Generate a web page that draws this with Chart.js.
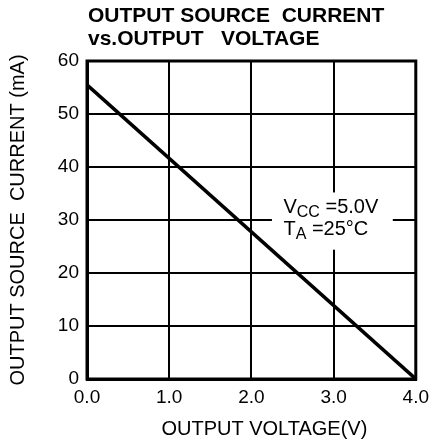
<!DOCTYPE html>
<html>
<head>
<meta charset="utf-8">
<script src="https://cdn.jsdelivr.net/npm/chart.js@4.4.1/dist/chart.umd.min.js"></script>
<style>
  html, body { margin: 0; padding: 0; background: #fff; }
  #wrap { width: 436px; height: 443px; }
</style>
</head>
<body>
<div id="wrap"><canvas id="c" width="436" height="443"></canvas></div>
<script>
// ---- data ----
const outputVoltage = [0.0, 4.0];          // V
const outputSourceCurrent = [55.5, 0.0];   // mA
const xTickLabels = ['0.0', '1.0', '2.0', '3.0', '4.0'];
const yTickLabels = ['0', '10', '20', '30', '40', '50', '60'];
const titleLines = ['OUTPUT SOURCE  CURRENT', 'vs.OUTPUT   VOLTAGE'];
const xAxisTitle = 'OUTPUT VOLTAGE(V)';
const yAxisTitle = 'OUTPUT SOURCE  CURRENT (mA)';

const FONT = "'Liberation Sans', Arial, Helvetica, sans-serif";

const titlePlugin = {
  id: 'leftTitle',
  afterDraw(chart) {
    const ctx = chart.ctx;
    const left = chart.chartArea.left + 1;
    ctx.save();
    ctx.fillStyle = '#000';
    ctx.font = 'bold 21px ' + FONT;
    ctx.textAlign = 'left';
    ctx.textBaseline = 'alphabetic';
    ctx.fillText(titleLines[0], left, 22);
    ctx.fillText(titleLines[1], left, 45);
    // x axis title
    ctx.font = '20px ' + FONT;
    ctx.textAlign = 'center';
    ctx.fillText(xAxisTitle, (chart.chartArea.left + chart.chartArea.right) / 2 + 13, 435);
    ctx.restore();
  }
};

const framePlugin = {
  id: 'frame',
  beforeDatasetsDraw(chart) {
    const { ctx } = chart;
    const xs = chart.scales.x, ys = chart.scales.y;
    // white box behind the conditions note
    ctx.save();
    ctx.fillStyle = '#fff';
    const bx = xs.getPixelForValue(2.25), by = ys.getPixelForValue(35.2);
    const bx2 = xs.getPixelForValue(3.72), by2 = ys.getPixelForValue(24.4);
    ctx.fillRect(bx, by, bx2 - bx, by2 - by);
    ctx.restore();
  },
  afterDatasetsDraw(chart) {
    const { ctx, chartArea: a } = chart;
    ctx.save();
    ctx.strokeStyle = '#000';
    ctx.lineWidth = 3;
    ctx.strokeRect(a.left, a.top, a.right - a.left, a.bottom - a.top);
    // conditions note
    const xs = chart.scales.x;
    ctx.fillStyle = '#000';
    ctx.textBaseline = 'alphabetic';
    ctx.textAlign = 'left';
    let x = xs.getPixelForValue(2.39);
    let y1 = 213, y2 = 235;
    ctx.font = '20px ' + FONT;
    ctx.fillText('V', x, y1);
    let w = ctx.measureText('V').width;
    ctx.font = '16px ' + FONT;
    ctx.fillText('CC', x + w, y1 + 4);
    let w2 = ctx.measureText('CC').width;
    ctx.font = '20px ' + FONT;
    ctx.fillText(' =5.0V', x + w + w2, y1);
    ctx.fillText('T', x, y2);
    w = ctx.measureText('T').width;
    ctx.font = '16px ' + FONT;
    ctx.fillText('A', x + w, y2 + 4);
    w2 = ctx.measureText('A').width;
    ctx.font = '20px ' + FONT;
    ctx.fillText(' =25°C', x + w + w2, y2);
    ctx.restore();
  }
};

new Chart(document.getElementById('c'), {
  type: 'line',
  data: {
    datasets: [{
      data: outputVoltage.map((v, i) => ({ x: v, y: outputSourceCurrent[i] })),
      borderColor: '#000',
      borderWidth: 3.5,
      pointRadius: 0,
      tension: 0,
      fill: false
    }]
  },
  options: {
    responsive: false,
    devicePixelRatio: 1,
    animation: false,
    layout: { padding: { top: 61, right: 20, left: 0, bottom: 0 } },
    plugins: { legend: { display: false }, title: { display: false }, tooltip: { enabled: false } },
    scales: {
      x: {
        type: 'linear',
        min: 0, max: 4,
        afterFit(s) { s.height = 64; },
        ticks: {
          stepSize: 1,
          color: '#000',
          padding: 7,
          font: { family: FONT, size: 19 },
          callback: (v) => xTickLabels[Math.round(v)]
        },
        grid: { color: '#000', lineWidth: 2, drawTicks: false },
        border: { display: true, color: '#000', width: 3 },
        title: { display: false }
      },
      y: {
        min: 0, max: 60,
        afterFit(s) { s.width = 87; },
        ticks: {
          stepSize: 10,
          color: '#000',
          padding: 8,
          font: { family: FONT, size: 19 },
          callback: (v) => yTickLabels[Math.round(v / 10)]
        },
        grid: { color: '#000', lineWidth: 2, drawTicks: false },
        border: { display: true, color: '#000', width: 3 },
        title: {
          display: true, text: yAxisTitle, color: '#000',
          font: { family: FONT, size: 20 },
          padding: { top: 6, bottom: 0 }
        }
      }
    }
  },
  plugins: [titlePlugin, framePlugin]
});
</script>
</body>
</html>
